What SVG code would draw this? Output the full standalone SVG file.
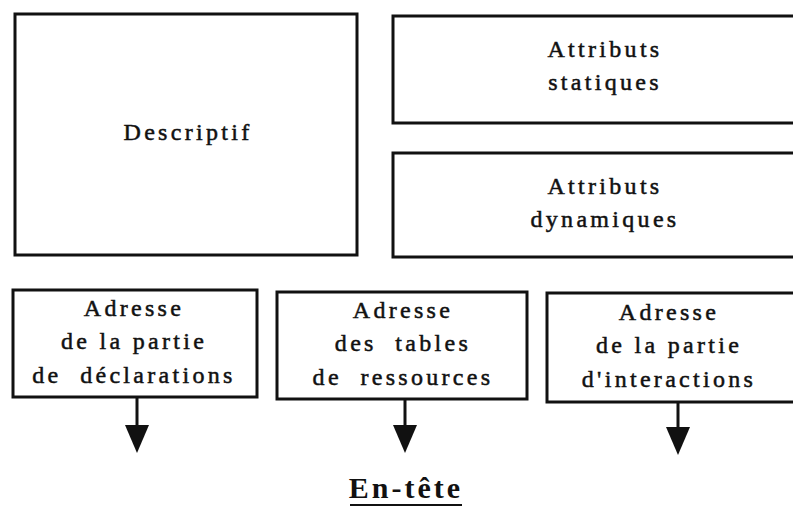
<svg xmlns="http://www.w3.org/2000/svg" width="793" height="512" viewBox="0 0 793 512">
<style>
.box{fill:none;stroke:#111;stroke-width:3}
.t{font-family:"Liberation Serif","Times New Roman",serif;font-size:24px;letter-spacing:3.3px;fill:#111;stroke:#111;stroke-width:0.5;text-anchor:middle}
.c{stroke:#111;stroke-width:3;fill:none}
.title{font-family:"Liberation Serif","Times New Roman",serif;font-size:30px;font-weight:bold;letter-spacing:3px;fill:#111;text-anchor:middle}
</style>
<rect width="793" height="512" fill="#fff"/>
<g id="descriptif">
<rect class="box" x="15" y="14" width="342" height="241"/>
<text class="t" x="188" y="140">Descriptif</text>
</g>
<g id="attributs-statiques">
<rect class="box" x="393" y="16" width="420" height="107"/>
<text class="t" x="605" y="57">Attributs</text>
<text class="t" x="605" y="90">statiques</text>
</g>
<g id="attributs-dynamiques">
<rect class="box" x="393" y="153" width="420" height="104"/>
<text class="t" x="605" y="194">Attributs</text>
<text class="t" x="605" y="227">dynamiques</text>
</g>
<g id="adresse-declarations">
<rect class="box" x="13" y="290" width="244" height="107"/>
<text class="t" x="134" y="316">Adresse</text>
<text class="t" x="134" y="349" xml:space="preserve">de la partie</text>
<text class="t" x="134" y="383" xml:space="preserve">de  déclarations</text>
</g>
<g id="adresse-ressources">
<rect class="box" x="277" y="292" width="250" height="107"/>
<text class="t" x="403" y="318">Adresse</text>
<text class="t" x="403" y="351" xml:space="preserve">des  tables</text>
<text class="t" x="403" y="385" xml:space="preserve">de  ressources</text>
</g>
<g id="adresse-interactions">
<rect class="box" x="547" y="293" width="270" height="109"/>
<text class="t" x="669" y="320">Adresse</text>
<text class="t" x="669" y="353" xml:space="preserve">de la partie</text>
<text class="t" x="669" y="387">d'interactions</text>
</g>
<g id="connectors">
<line class="c" x1="137" y1="398" x2="137" y2="426"/>
<path d="M125,425 L149,425 L137,453 Z" fill="#111"/>
<line class="c" x1="405" y1="400" x2="405" y2="426"/>
<path d="M393,425 L417,425 L405,453 Z" fill="#111"/>
<line class="c" x1="678" y1="403" x2="678" y2="428"/>
<path d="M666,427 L690,427 L678,455 Z" fill="#111"/>
</g>
<g id="title">
<text class="title" x="406" y="498">En-tête</text>
<line x1="350" y1="505" x2="462" y2="505" stroke="#111" stroke-width="2"/>
</g>
</svg>
